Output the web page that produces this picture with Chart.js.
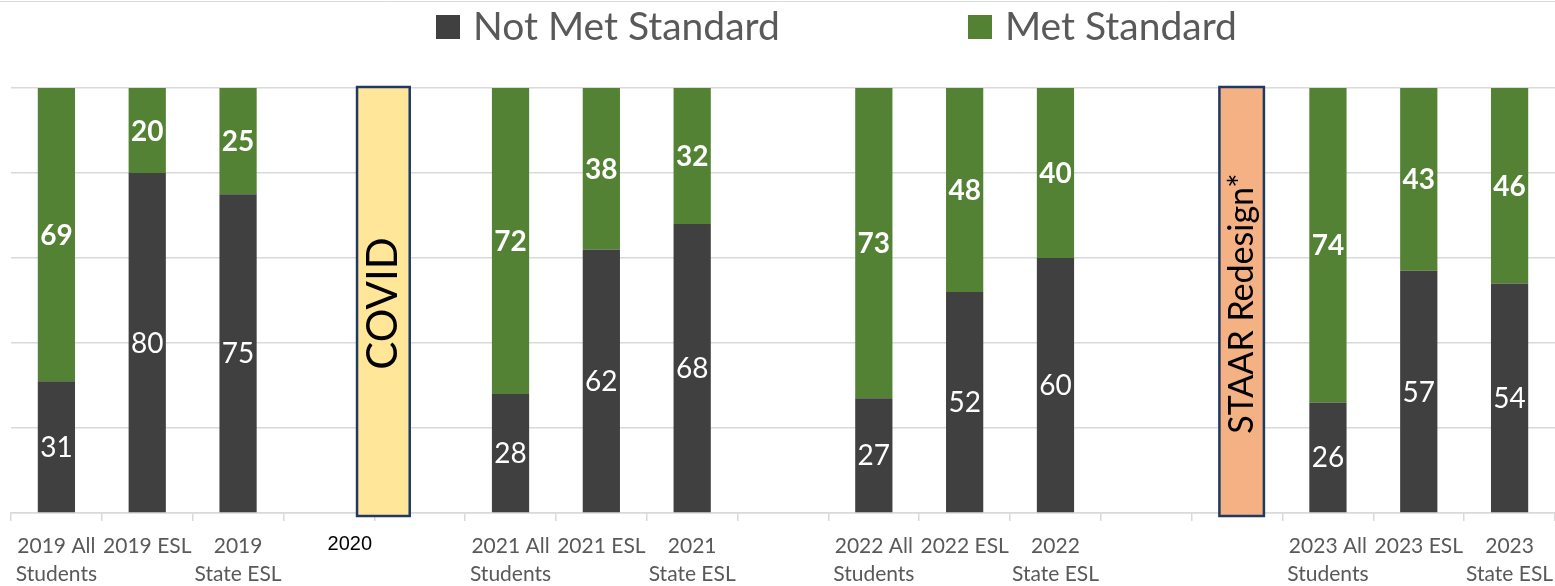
<!DOCTYPE html>
<html>
<head>
<meta charset="utf-8">
<script src="https://cdn.jsdelivr.net/npm/chart.js@4/dist/chart.umd.min.js"></script>
<style>
  html, body { margin: 0; padding: 0; background: #fff; }
  #wrap { width: 1555px; height: 586px; position: relative; }
</style>
</head>
<body>
<div id="wrap"><canvas id="chart"></canvas></div>
<script>
// categories (empty slots are the gaps between years)
const categories = [
    ['2019 All', 'Students'], '2019 ESL', ['2019', 'State ESL'],
    '', '',
    ['2021 All', 'Students'], '2021 ESL', ['2021', 'State ESL'],
    '',
    ['2022 All', 'Students'], '2022 ESL', ['2022', 'State ESL'],
    '', '',
    ['2023 All', 'Students'], '2023 ESL', ['2023', 'State ESL']
];
const notMet = [31, 80, 75, null, null, 28, 62, 68, null, 27, 52, 60, null, null, 26, 57, 54];
const met    = [69, 20, 25, null, null, 72, 38, 32, null, 73, 48, 40, null, null, 74, 43, 46];
const seriesNames = ['Not Met Standard', 'Met Standard'];
const yTicks = [0, 20, 40, 60, 80, 100];

// note boxes placed over the gaps, in category units
const notes = [
    { text: 'COVID', at: 3.6, span: 0.58, fill: '#FFE699', size: 42 },
    { text: 'STAAR Redesign*', at: 13.05, span: 0.49, fill: '#F4B183', size: 34 }
];
const yearNote = { text: '2020', at: 3.23 };

const DARK = '#404040';
const GREEN = '#548235';
const GREY_TEXT = '#595959';
const FONT = 'Lato, "Open Sans", sans-serif';

// values inside the bars
const barLabels = {
    id: 'barLabels',
    afterDatasetsDraw(chart) {
        const ctx = chart.ctx;
        ctx.save();
        ctx.fillStyle = '#fff';
        ctx.textAlign = 'center';
        ctx.textBaseline = 'middle';
        chart.data.datasets.forEach((ds, i) => {
            const meta = chart.getDatasetMeta(i);
            ctx.font = (i === 1 ? 'bold ' : '') + '28px ' + FONT;
            meta.data.forEach((bar, j) => {
                const v = ds.data[j];
                if (v == null) return;
                ctx.fillText(String(v), bar.x, (bar.y + bar.base) / 2 + 1);
            });
        });
        ctx.restore();
    }
};

// legend, gap boxes, 2020 text, frame line
const extras = {
    id: 'extras',
    afterDraw(chart) {
        const ctx = chart.ctx;
        const x = chart.scales.x;
        const y = chart.scales.y;
        const catW = x.width / categories.length;
        ctx.save();

        // faint frame line at the top
        ctx.strokeStyle = '#d9d9d9';
        ctx.lineWidth = 1;
        ctx.beginPath();
        ctx.moveTo(0, 1.5);
        ctx.lineTo(chart.width, 1.5);
        ctx.stroke();

        // legend
        ctx.font = '39px ' + FONT;
        ctx.textBaseline = 'middle';
        ctx.textAlign = 'left';
        const legendItems = [
            { name: seriesNames[0], color: DARK, left: 436 },
            { name: seriesNames[1], color: GREEN, left: 968 }
        ];
        legendItems.forEach(it => {
            ctx.fillStyle = it.color;
            ctx.fillRect(it.left, 15, 24, 24);
            ctx.fillStyle = GREY_TEXT;
            ctx.fillText(it.name, it.left + 37, 27);
        });

        // note boxes
        notes.forEach(n => {
            const cx = x.getPixelForValue(n.at);
            const w = catW * n.span;
            const top = y.getPixelForValue(100) - 1;
            const bottom = y.getPixelForValue(0) + 3;
            ctx.fillStyle = n.fill;
            ctx.fillRect(cx - w / 2, top, w, bottom - top);
            ctx.strokeStyle = '#203864';
            ctx.lineWidth = 2.5;
            ctx.strokeRect(cx - w / 2, top, w, bottom - top);
            ctx.save();
            ctx.translate(cx, (top + bottom) / 2 + 2);
            ctx.rotate(-Math.PI / 2);
            ctx.fillStyle = '#000';
            ctx.textAlign = 'center';
            ctx.textBaseline = 'middle';
            ctx.font = n.size + 'px ' + FONT;
            ctx.fillText(n.text, 0, 0);
            ctx.restore();
        });

        // 2020 label under the gap
        ctx.fillStyle = '#000';
        ctx.textAlign = 'center';
        ctx.textBaseline = 'middle';
        ctx.font = '20px "Liberation Sans", Arial, sans-serif';
        ctx.fillText(yearNote.text, x.getPixelForValue(yearNote.at), x.top + 31);

        ctx.restore();
    }
};

new Chart(document.getElementById('chart'), {
    type: 'bar',
    data: {
        labels: categories,
        datasets: [
            { label: seriesNames[0], data: notMet, backgroundColor: DARK },
            { label: seriesNames[1], data: met, backgroundColor: GREEN }
        ]
    },
    options: {
        responsive: true,
        maintainAspectRatio: false,
        animation: false,
        datasets: {
            bar: { categoryPercentage: 1, barPercentage: 0.41 }
        },
        layout: { padding: { top: 88, left: 11, right: 0, bottom: 0 } },
        plugins: {
            legend: { display: false },
            tooltip: { enabled: false }
        },
        scales: {
            x: {
                stacked: true,
                offset: true,
                afterFit(scale) {
                    scale.height = 73;
                    scale.paddingLeft = 0;
                    scale.paddingRight = 0;
                },
                grid: {
                    offset: true,
                    drawOnChartArea: false,
                    drawTicks: true,
                    tickLength: 8,
                    color: '#d9d9d9',
                    lineWidth: 1.5
                },
                border: { color: '#d9d9d9', width: 1.5 },
                ticks: {
                    color: GREY_TEXT,
                    padding: 11,
                    maxRotation: 0,
                    autoSkip: false,
                    font: { family: FONT, size: 21, lineHeight: 1.33 }
                }
            },
            y: {
                stacked: true,
                min: 0,
                max: 100,
                afterBuildTicks(axis) {
                    axis.ticks = yTicks.map(v => ({ value: v }));
                },
                grid: { color: '#d9d9d9', lineWidth: 1.5, drawTicks: false },
                border: { display: false },
                ticks: { display: false }
            }
        }
    },
    plugins: [barLabels, extras]
});
</script>
</body>
</html>
